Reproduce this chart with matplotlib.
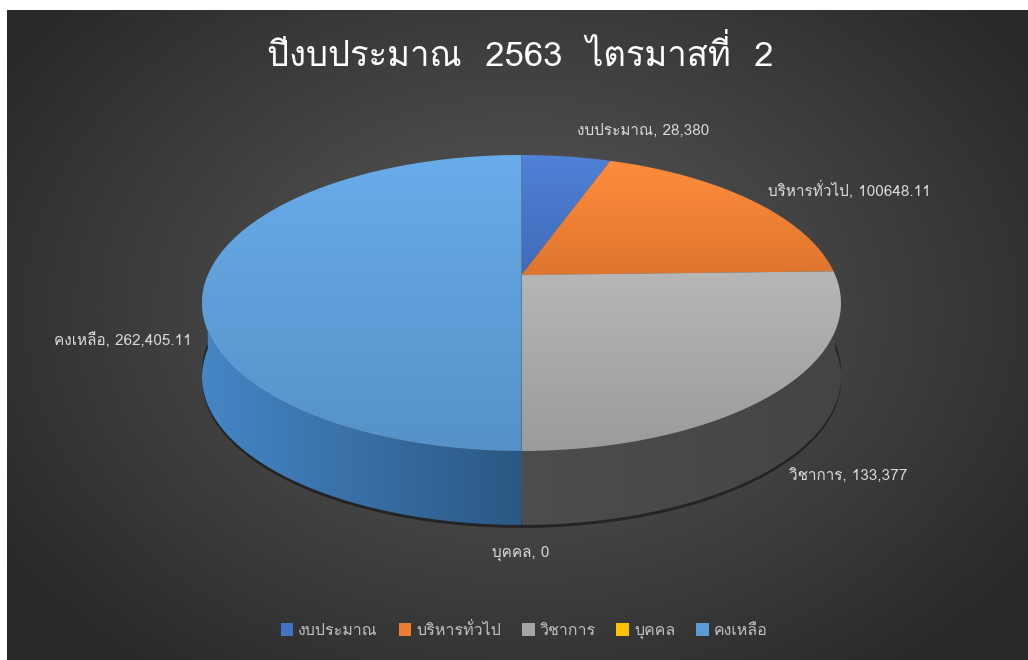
import matplotlib
matplotlib.use("Agg")
import matplotlib.pyplot as plt
from matplotlib import font_manager
from matplotlib.patches import Polygon, Patch
import numpy as np

# data
categories = ["งบประมาณ", "บริหารทั่วไป", "วิชาการ", "บุคคล", "คงเหลือ"]
values = [28380, 100648.11, 133377, 0, 262405.11]
value_labels = ["28,380", "100648.11", "133,377", "0", "262,405.11"]
title = "ปีงบประมาณ  2563  ไตรมาสที่  2"

top_colors = ["#4472c4", "#ed7d31", "#a5a5a5", "#ffc000", "#5b9bd5"]

# font with thai glyphs, if any is installed
thai = []
for f in font_manager.fontManager.ttflist:
    n = f.name
    if "Thai" in n or n in ("Loma", "Garuda", "Sawasdee", "Waree", "Umpush", "Kinnari", "Norasi", "Purisa", "Laksaman", "Tlwg Typo", "Tlwg Typist"):
        if n not in thai:
            thai.append(n)
fams = thai + ["Noto Sans", "DejaVu Sans"]
plt.rcParams["font.family"] = fams

W, H = 1028, 660
fig = plt.figure(figsize=(W / 100, H / 100), dpi=100)
fig.patch.set_facecolor("white")
ax = fig.add_axes([0, 0, 1, 1])
ax.set_xlim(0, W)
ax.set_ylim(H, 0)
ax.axis("off")

# background: radial gradient
x0, y0, x1, y1 = 7, 10, W, H
yy, xx = np.mgrid[y0:y1, x0:x1]
r = np.sqrt(((xx - 520) / 620.0) ** 2 + ((yy - 310) / 460.0) ** 2)
r = np.clip(r, 0, 1)
c = 0.36 - 0.2 * r
bg = np.dstack([c, c, c])
ax.imshow(bg, extent=[x0, x1, y1, y0], zorder=0, interpolation="bilinear")

# 3d pie geometry (simple perspective: front is nearer)
cx, cy, rx, ry, p, depth = 521.5, 275, 313.7, 142.7, 0.189, 74

def pt(theta, dy=0):
    t = np.radians(theta)
    X, Z = np.sin(t), -np.cos(t)
    s = 1.0 / (1 - p * Z)
    return cx + rx * X * s, cy + ry * Z * s + dy

def grad_fill(poly, c_a, c_b, horizontal=True, z=1):
    a = np.array(matplotlib.colors.to_rgb(c_a))
    b = np.array(matplotlib.colors.to_rgb(c_b))
    s = np.linspace(0, 1, 256)
    img = a[None, :] * (1 - s[:, None]) + b[None, :] * s[:, None]
    if horizontal:
        img = img[None, :, :]
    else:
        img = img[:, None, :]
    xs, ys = poly[:, 0], poly[:, 1]
    im = ax.imshow(img, extent=[xs.min(), xs.max(), ys.max(), ys.min()],
                   zorder=z, interpolation="bilinear", aspect="auto")
    pp = Polygon(poly, closed=True, facecolor="none", edgecolor="none")
    ax.add_patch(pp)
    im.set_clip_path(pp)

total = float(sum(values))
angles = np.cumsum([0] + [v / total * 360 for v in values])

# shadow under pie
sh = np.linspace(80, 280, 120)
shp = np.array([pt(t, depth + 3) for t in sh])
shq = np.array([pt(t, depth - 6) for t in sh])
ax.fill(np.r_[shp[:, 0], shq[::-1, 0]], np.r_[shp[:, 1], shq[::-1, 1]],
        color="black", alpha=0.45, zorder=1, lw=0)

# side walls (front half only)
for i, v in enumerate(values):
    a0, a1 = max(angles[i], 90), min(angles[i + 1], 270)
    if v == 0 or a1 <= a0:
        continue
    ts = np.linspace(a0, a1, 100)
    top = np.array([pt(t) for t in ts])
    bot = np.array([pt(t, depth) for t in ts])
    poly = np.vstack([top, bot[::-1]])
    if i == 4:
        grad_fill(poly, "#4586c6", "#2b5884", z=2)
    else:
        grad_fill(poly, "#4d4d4d", "#444444", z=2)

# top faces
for i, v in enumerate(values):
    if v == 0:
        continue
    ts = np.linspace(angles[i], angles[i + 1], 150)
    edge = np.array([pt(t) for t in ts])
    poly = np.vstack([[cx, cy], edge])
    c0 = np.array(matplotlib.colors.to_rgb(top_colors[i]))
    grad_fill(poly, tuple(np.clip(c0 * 1.06 + 0.03, 0, 1)), tuple(c0 * 0.94), horizontal=False, z=3)

# data labels
lab_pos = [(643, 131), (849, 190), (848, 476), (521, 553), (123, 340)]
for i, (lx, ly) in enumerate(lab_pos):
    ax.text(lx, ly, categories[i] + ", " + value_labels[i], color="#d9d9d9",
            fontsize=11, ha="center", va="center", zorder=5)

ax.text(520, 55, title, color="white", fontsize=25, ha="center", va="center", zorder=5)

handles = [Patch(facecolor=c, edgecolor="none") for c in top_colors]
leg = fig.legend(handles, categories, loc="center", bbox_to_anchor=(524 / W, 1 - 631 / H),
                 ncol=5, frameon=False, fontsize=11.5, handlelength=0.8, handleheight=0.8,
                 handletextpad=0.3, columnspacing=1.3)
for t in leg.get_texts():
    t.set_color("#bfbfbf")

fig.savefig("out.png", dpi=100, facecolor=fig.get_facecolor())
